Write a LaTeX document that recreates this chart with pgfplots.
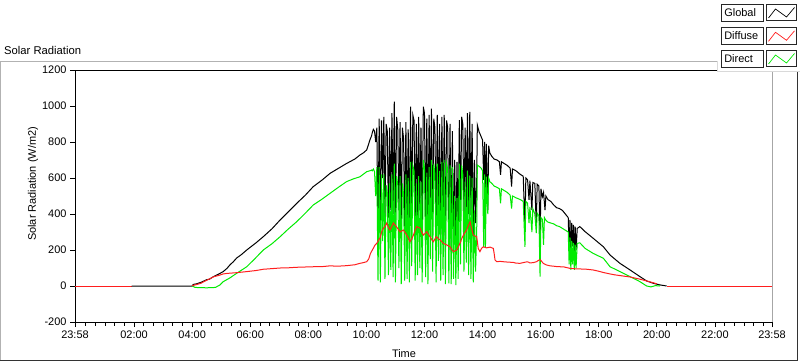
\documentclass[border=0pt]{standalone}
\usepackage{fontspec}
\setmainfont{Liberation Sans}
\usepackage{pgfplots}
\pgfplotsset{compat=1.18}
\definecolor{lvred}{RGB}{255,30,30}
\definecolor{lvgreen}{RGB}{0,235,0}
\begin{document}
\begin{tikzpicture}[x=1bp,y=1bp]
\useasboundingbox (0,0) rectangle (800,361);
\begin{axis}[
  at={(75bp,39bp)}, anchor=south west,
  scale only axis, width=697bp, height=252bp,
  xmin=-0.03333, xmax=23.96667, ymin=-200, ymax=1200,
  xtick={-0.03333,2,4,6,8,10,12,14,16,18,20,22,23.96667},
  xticklabels={23:58,02:00,04:00,06:00,08:00,10:00,12:00,14:00,16:00,18:00,20:00,22:00,23:58},
  minor xtick={0.33333,0.66667,1,1.33333,1.66667,2.33333,2.66667,3,3.33333,3.66667,4.33333,4.66667,5,5.33333,5.66667,6.33333,6.66667,7,7.33333,7.66667,8.33333,8.66667,9,9.33333,9.66667,10.33333,10.66667,11,11.33333,11.66667,12.33333,12.66667,13,13.33333,13.66667,14.33333,14.66667,15,15.33333,15.66667,16.33333,16.66667,17,17.33333,17.66667,18.33333,18.66667,19,19.33333,19.66667,20.33333,20.66667,21,21.33333,21.66667,22.33333,22.66667,23,23.33333,23.66667},
  ytick={-200,0,200,400,600,800,1000,1200},
  tick align=outside, tick pos=left,
  major tick length=5bp, minor tick length=3.5bp,
  every tick/.style={black, line width=0.7bp},
  tick label style={font=\fontsize{11}{13}\selectfont, black},
  /pgf/number format/assume math mode=true,
  /pgf/number format/1000 sep={},
  axis line style={black, line width=0.8bp},
  xlabel={Time}, ylabel={Solar Radiation (W/m2)},
  xlabel style={at={(axis description cs:0.472,-0.127)}, anchor=center, font=\fontsize{11}{13}\selectfont},
  ylabel style={at={(axis description cs:-0.0603,0.548)}, anchor=center, font=\fontsize{11}{13}\selectfont},
  after end axis/.code={\draw[gray!70, line width=0.8bp] (rel axis cs:1,0) -- (rel axis cs:1,1);},
  every axis plot/.append style={line width=1bp},
]
% Diffuse at night
\addplot[lvred] coordinates {(-0.03333,0) (1.92,0)};
\addplot[lvred] coordinates {(20.34,0) (23.96667,0)};
% Global
\addplot[black] coordinates {
(1.92,0) (4.0,0) (4.04,9) (4.15,12) (4.3,20) (4.5,35) (4.6,38) (4.73,52) (4.9,65) (5.07,80) (5.2,98) (5.3,117) (5.42,135) (5.53,155) (5.7,175) (5.88,200) (6.2,240) (6.45,274) (6.75,318) (7.03,367) (7.3,410) (7.60,459) (7.9,505) (8.17,552) (8.5,592) (8.75,626) (9.05,655) (9.32,681) (9.6,705) (9.78,728) (9.9,740) (10.01,756) (10.08,790) (10.12,811) (10.18,835)
(10.20,850) (10.24,870) (10.28,860) (10.32,800) (10.36,880) (10.40,270) (10.44,930) (10.48,290) (10.52,920) (10.56,600) (10.60,940) (10.64,370) (10.68,900) (10.72,860) (10.76,380) (10.80,880) (10.84,420) (10.88,960) (10.92,400) (10.96,1024) (11.00,330) (11.04,940) (11.08,870) (11.12,420) (11.16,910) (11.20,300) (11.24,880) (11.28,820) (11.32,330) (11.36,910) (11.40,300) (11.44,870) (11.48,260) (11.52,996) (11.56,380) (11.60,950) (11.64,920) (11.68,340) (11.72,900) (11.76,360) (11.80,940) (11.84,420) (11.88,880) (11.92,300) (11.96,996) (12.00,960) (12.04,350) (12.08,930) (12.12,280) (12.16,950) (12.20,420) (12.24,985) (12.28,330) (12.32,930) (12.36,880) (12.40,290) (12.44,950) (12.48,400) (12.52,900) (12.56,283) (12.60,940) (12.64,300) (12.68,950) (12.72,191) (12.76,920) (12.80,880) (12.84,200) (12.88,900) (12.92,191) (12.96,860) (13.00,230) (13.04,700) (13.08,183) (13.12,690) (13.16,260) (13.20,922) (13.24,380) (13.28,940) (13.32,900) (13.36,380) (13.40,880) (13.44,440) (13.48,960) (13.52,400) (13.56,968) (13.60,394) (13.64,900) (13.68,260) (13.72,700) (13.76,350) (13.80,600)
(13.82,894) (13.88,857) (13.95,830) (14.00,811) (14.04,589) (14.07,800) (14.10,405) (14.13,790) (14.18,422) (14.21,780) (14.25,739) (14.32,720) (14.40,705) (14.50,700) (14.58,690) (14.62,617) (14.65,690) (14.75,680) (14.85,670) (14.95,655) (15.00,552) (15.03,650) (15.15,640) (15.30,620) (15.40,610) (15.46,330) (15.49,600) (15.55,590) (15.60,478) (15.63,585) (15.70,422) (15.73,575) (15.80,570) (15.85,330) (15.88,565) (15.94,555) (15.98,256) (16.01,540) (16.06,496) (16.10,520) (16.15,422) (16.18,500) (16.25,480) (16.35,470) (16.45,450) (16.55,435) (16.65,430) (16.75,420) (16.85,400) (16.95,380) (16.98,200) (17.01,367) (17.04,163) (17.07,350) (17.10,220) (17.13,340) (17.16,170) (17.19,330) (17.22,200) (17.26,320) (17.35,330) (17.53,302) (17.81,265) (18.16,218) (18.39,172) (18.73,126) (19.08,89) (19.42,52) (19.65,28) (19.88,15) (20.11,6) (20.34,0)
};
% Direct
\addplot[lvgreen] coordinates {
(4.0,0) (4.1,-8) (4.5,-10) (4.8,-8) (4.95,5) (5.07,24) (5.3,45) (5.53,70) (5.88,107) (6.15,150) (6.45,200) (6.75,235) (7.03,274) (7.3,315) (7.60,357) (7.9,405) (8.17,450) (8.45,480) (8.75,515) (9.05,550) (9.32,580) (9.55,595) (9.78,607) (10.01,635) (10.12,640) (10.18,644)
(10.20,640) (10.24,650) (10.28,635) (10.32,500) (10.36,660) (10.40,30) (10.44,660) (10.48,20) (10.52,620) (10.56,250) (10.60,620) (10.64,40) (10.68,560) (10.72,520) (10.76,60) (10.80,570) (10.84,90) (10.88,620) (10.92,50) (10.96,680) (11.00,20) (11.04,610) (11.08,560) (11.12,100) (11.16,610) (11.20,10) (11.24,570) (11.28,510) (11.32,30) (11.36,620) (11.40,40) (11.44,600) (11.48,20) (11.52,690) (11.56,110) (11.60,670) (11.64,640) (11.68,30) (11.72,570) (11.76,60) (11.80,610) (11.84,100) (11.88,580) (11.92,20) (11.96,700) (12.00,660) (12.04,50) (12.08,630) (12.12,10) (12.16,660) (12.20,150) (12.24,700) (12.28,80) (12.32,680) (12.36,620) (12.40,20) (12.44,680) (12.48,140) (12.52,640) (12.56,30) (12.60,690) (12.64,60) (12.68,700) (12.72,10) (12.76,680) (12.80,650) (12.84,15) (12.88,670) (12.92,10) (12.96,660) (13.00,40) (13.04,500) (13.08,5) (13.12,490) (13.16,40) (13.20,680) (13.24,120) (13.28,670) (13.32,620) (13.36,80) (13.40,580) (13.44,130) (13.48,640) (13.52,60) (13.56,610) (13.60,40) (13.64,600) (13.68,20) (13.72,420) (13.76,80) (13.80,330)
(13.82,672) (13.88,665) (13.95,655) (14.00,640) (14.04,218) (14.07,620) (14.10,218) (14.13,607) (14.18,400) (14.21,600) (14.25,580) (14.32,570) (14.40,555) (14.50,548) (14.58,540) (14.62,459) (14.65,540) (14.75,530) (14.85,520) (14.95,505) (15.00,430) (15.03,500) (15.15,490) (15.30,480) (15.40,470) (15.46,218) (15.49,470) (15.55,460) (15.60,350) (15.63,440) (15.70,300) (15.73,430) (15.80,400) (15.85,294) (15.88,405) (15.94,390) (15.98,52) (16.01,380) (16.06,370) (16.10,228) (16.13,380) (16.18,365) (16.25,355) (16.35,350) (16.45,345) (16.55,335) (16.65,330) (16.75,320) (16.85,310) (16.95,300) (16.98,120) (17.01,270) (17.04,89) (17.07,250) (17.10,120) (17.13,240) (17.16,89) (17.19,230) (17.22,100) (17.26,237) (17.35,240) (17.53,209) (17.81,181) (18.16,154) (18.39,107) (18.73,80) (19.08,52) (19.42,24) (19.65,0) (19.80,-5) (19.95,2) (20.11,0)
};
% Diffuse by day
\addplot[lvred] coordinates {
(4.0,2) (4.15,8) (4.3,15) (4.45,28) (4.6,40) (4.75,52) (4.9,58) (5.07,67) (5.2,70) (5.53,74) (5.88,80) (6.2,86) (6.45,93) (7.03,100) (7.3,101) (7.60,104) (8.17,107) (8.5,108) (8.75,112) (9.0,110) (9.32,113) (9.6,118) (9.78,126) (9.9,130) (10.01,135) (10.08,150) (10.14,181) (10.24,210) (10.30,228) (10.36,237) (10.42,255) (10.47,267) (10.53,302) (10.58,320) (10.64,330) (10.70,350) (10.76,325) (10.81,311) (10.87,330) (10.93,350) (10.98,340) (11.04,328) (11.10,315) (11.16,300) (11.21,305) (11.27,311) (11.33,298) (11.39,283) (11.45,265) (11.50,246) (11.56,262) (11.62,283) (11.68,310) (11.73,330) (11.79,325) (11.85,322) (11.90,300) (11.96,283) (12.02,292) (12.08,302) (12.14,285) (12.19,274) (12.25,258) (12.31,246) (12.36,262) (12.42,274) (12.48,262) (12.54,256) (12.60,245) (12.65,237) (12.71,232) (12.77,228) (12.83,222) (12.88,218) (12.94,202) (13.00,191) (13.06,196) (13.11,200) (13.17,218) (13.22,237) (13.28,262) (13.34,283) (13.40,298) (13.45,311) (13.51,335) (13.57,357) (13.62,320) (13.68,283) (13.74,278) (13.80,274) (13.85,209) (13.91,191) (13.97,210) (14.03,218) (14.09,214) (14.14,212) (14.20,214) (14.26,216) (14.32,212) (14.37,209) (14.40,180) (14.43,144) (14.49,135) (14.60,137) (14.71,135) (14.85,133) (15.06,131) (15.15,127) (15.29,126) (15.40,130) (15.52,134) (15.58,133) (15.63,128) (15.75,130) (15.86,135) (15.92,142) (15.98,146) (16.04,136) (16.09,126) (16.20,117) (16.32,112) (16.45,110) (16.55,108) (16.67,107) (16.80,106) (17.01,98) (17.24,95) (17.53,94) (17.81,89) (18.0,82) (18.16,75) (18.39,67) (18.55,62) (18.73,58) (19.08,50) (19.25,44) (19.42,38) (19.65,28) (19.88,18) (20.0,12)
};
\end{axis}
% panel frame
\draw[gray!60, line width=0.8bp] (0.5,0) -- (0.5,300) -- (717,300);
\draw[black!80, line width=1bp] (0,0.5) -- (797.5,0.5) -- (797.5,289.5);
% title
\node[anchor=west, font=\fontsize{11.3}{13}\selectfont, inner sep=0] at (4,311) {Solar Radiation};
% legend panel
\fill[white] (717,289.5) rectangle (800,361);
\draw[gray!30, line width=0.6bp] (717,300) -- (717,289.5) -- (800,289.5);
\foreach \name/\y/\col in {Global/357/black, Diffuse/333.7/lvred, Direct/311/lvgreen} {
  \node[draw=black!85, line width=0.6bp, anchor=north west, minimum width=42bp, minimum height=16.7bp, inner xsep=3bp, inner ysep=0bp, text width=36bp, align=left, font=\fontsize{11}{13}\selectfont] at (721,\y) {\name};
  \draw[black!85, line width=0.6bp] (766.7,\y) rectangle (796,\y-16.7);
  \draw[\col, line width=0.7bp] (768.5,\y-14) -- (775.5,\y-5) -- (786.5,\y-13) -- (794.5,\y-3.5);
}
\end{tikzpicture}
\end{document}
